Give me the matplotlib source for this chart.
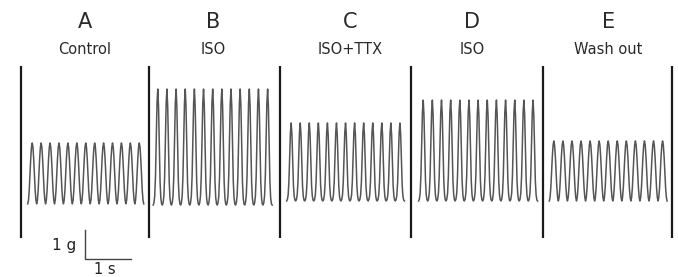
import numpy as np
import matplotlib
matplotlib.use("Agg")
import matplotlib.pyplot as plt

# Panel labels
letters = ["A", "B", "C", "D", "E"]
conditions = ["Control", "ISO", "ISO+TTX", "ISO", "Wash out"]

# Contraction traces (time in s, force in g, baseline = diastolic level)
first_peak = [0.70, 3.43, 6.33, 9.20, 12.04]      # s
beat_period = [0.194, 0.199, 0.197, 0.199, 0.197]  # s
n_beats = [13, 13, 13, 13, 13]
peak_force = [2.07, 3.93, 2.76, 3.55, 2.14]        # g
trough_force = [-0.03, -0.07, 0.07, 0.07, 0.07]    # g

# One beat, trough -> peak -> trough, normalised
beat_round = [0.0, 0.06, 0.22, 0.48, 0.74, 0.93, 1.0, 0.93, 0.74, 0.48, 0.22, 0.06]
beat_sharp = [0.0, 0.02, 0.08, 0.25, 0.55, 0.88, 1.0, 0.85, 0.50, 0.20, 0.06, 0.01]
beat_shape = [beat_round, beat_sharp, beat_sharp, beat_sharp, beat_round]

# Panel dividers (s) and their vertical extent (g)
dividers = [0.457, 3.239, 6.087, 8.935, 11.804, 14.609]
divider_span = (-1.21, 4.72)

# layout
label_x = [1.85, 4.63, 7.61, 10.26, 13.22]
fig = plt.figure(figsize=(6.78, 2.77), dpi=100)
ax = fig.add_axes([0, 0, 1, 1])
ax.set_xlim(0, 678 / 46)
ax.set_ylim(-74 / 29, 203 / 29)
ax.axis("off")

for x in dividers:
    ax.plot([x, x], divider_span, color="#1a1a1a", lw=1.6, solid_capstyle="butt")

for i in range(5):
    shape = np.array(beat_shape[i])
    m = len(shape)
    n = n_beats[i]
    t0 = first_peak[i] - beat_period[i] / 2
    t = t0 + beat_period[i] * np.arange(n * m + 1) / m
    y = np.append(np.tile(shape, n), shape[0])
    y = trough_force[i] + (peak_force[i] - trough_force[i]) * y
    ax.plot(t, y, color="#555555", lw=1.1)

    ax.text(label_x[i], 6.24, letters[i], ha="center", va="center",
            fontsize=15, family="DejaVu Sans", color="#2a2a2a")
    ax.text(label_x[i], 5.28, conditions[i], ha="center", va="center",
            fontsize=10.5, family="DejaVu Sans", color="#2a2a2a")

# scale bar: 1 g, 1 s
bx, by = 1.848, -1.93
ax.plot([bx, bx, bx + 1.0], [by + 1.0, by, by], color="#444444", lw=1.0)
ax.text(1.40, -1.45, "1 g", ha="center", va="center", fontsize=11,
        family="DejaVu Sans", color="#222222")
ax.text(2.27, -2.28, "1 s", ha="center", va="center", fontsize=10.5,
        family="DejaVu Sans", color="#222222")

fig.savefig("out.png", dpi=100)
